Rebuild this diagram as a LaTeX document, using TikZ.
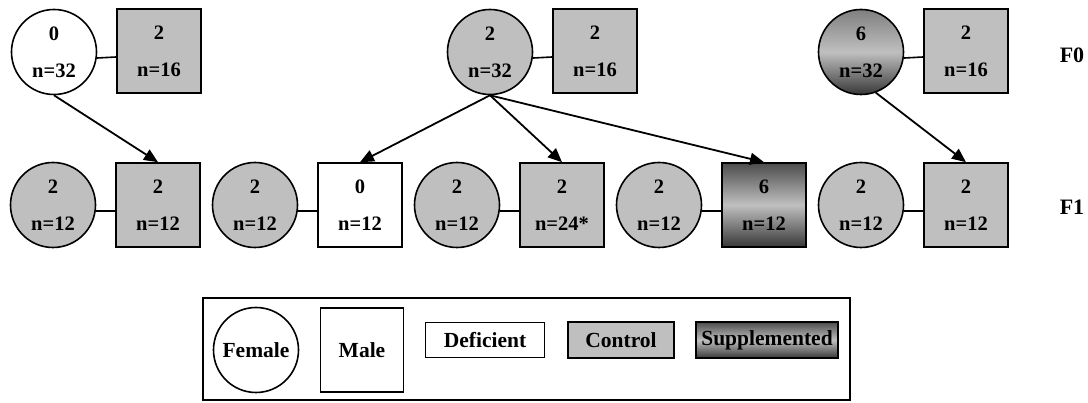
\documentclass[tikz,border=0pt]{standalone}
\usepackage{fontspec}
\setmainfont{Liberation Serif}
\usetikzlibrary{arrows.meta}
\newcommand\nodefnt{\fontsize{20.5}{37}\selectfont\bfseries}
\newcommand\legfnt{\fontsize{21.5}{24}\selectfont\bfseries}
\begin{document}
\begin{tikzpicture}[x=1pt,y=-1pt,
  fem/.style={circle, draw, line width=1.6pt, minimum size=85pt, inner sep=0pt, align=center, font=\nodefnt},
  mal/.style={rectangle, draw, line width=1.6pt, minimum width=84pt, minimum height=84pt, inner sep=0pt, align=center, font=\nodefnt},
  ctrl/.style={fill=black!25},
  defi/.style={fill=white},
  supp/.style={top color=black!70, bottom color=black!78, middle color=black!25},
  suppc/.style={top color=black!50, bottom color=black!78, middle color=black!25},
  link/.style={line width=1.6pt},
  arr/.style={line width=1.8pt, -{Triangle[length=14pt,width=12pt]}},
  gen/.style={font=\fontsize{22}{24}\selectfont\bfseries},
  legbox/.style={rectangle, draw, line width=1.6pt, inner sep=0pt, font=\legfnt}
]
\useasboundingbox (0,0) rectangle (1088,403);

% F0
\node[fem,defi] (f0c1) at (54,52) {0\\n=32};
\node[mal,ctrl] (f0s1) at (159,51) {2\\n=16};
\node[fem,ctrl] (f0c2) at (490,52) {2\\n=32};
\node[mal,ctrl] (f0s2) at (595,51) {2\\n=16};
\node[fem,suppc] (f0c3) at (861,52) {6\\n=32};
\node[mal,ctrl] (f0s3) at (966,51) {2\\n=16};

% F1
\node[fem,ctrl] (f1c1) at (53,205) {2\\n=12};
\node[mal,ctrl] (f1s1) at (158,205) {2\\n=12};
\node[fem,ctrl] (f1c2) at (255,205) {2\\n=12};
\node[mal,defi] (f1s2) at (360,205) {0\\n=12};
\node[fem,ctrl] (f1c3) at (457,205) {2\\n=12};
\node[mal,ctrl] (f1s3) at (562,205) {2\\n=24*};
\node[fem,ctrl] (f1c4) at (659,205) {2\\n=12};
\node[mal,supp] (f1s4) at (764,205) {6\\n=12};
\node[fem,ctrl] (f1c5) at (861,205) {2\\n=12};
\node[mal,ctrl] (f1s5) at (966,205) {2\\n=12};

% mating lines
\foreach \c/\s in {f0c1/f0s1,f0c2/f0s2,f0c3/f0s3,f1c1/f1s1,f1c2/f1s2,f1c3/f1s3,f1c4/f1s4,f1c5/f1s5}
  \draw[link] (\c.-8) -- ([yshift=-6pt]\s.west);

% descent arrows
\draw[arr] (f0c1.south) -- (f1s1.north);
\draw[arr] (f0c2.south) -- (f1s2.north);
\draw[arr] (f0c2.south) -- (f1s3.north);
\draw[arr] (f0c2.south) -- (f1s4.north);
\draw[arr] (f0c3.-70) -- (f1s5.north);

% generation labels
\node[gen] (g0) at (1072,55) {F0};
\node[gen] (g1) at (1072,207) {F1};

% legend
\node[legbox, minimum width=647pt, minimum height=102pt] (leg) at (526.5,349) {};
\node[legbox, circle, minimum size=85pt] (lfem) at (256,350) {Female};
\node[legbox, minimum width=83pt, minimum height=84pt] (lmale) at (362,350) {Male};
\node[legbox, defi, minimum width=119pt, minimum height=35pt] (ldef) at (485,340) {Deficient};
\node[legbox, ctrl, minimum width=106pt, minimum height=36pt] (lctrl) at (621,340) {Control};
\node[legbox, supp, minimum width=142pt, minimum height=36pt] (lsupp) at (767,340) {Supplemented};
\end{tikzpicture}
\end{document}
